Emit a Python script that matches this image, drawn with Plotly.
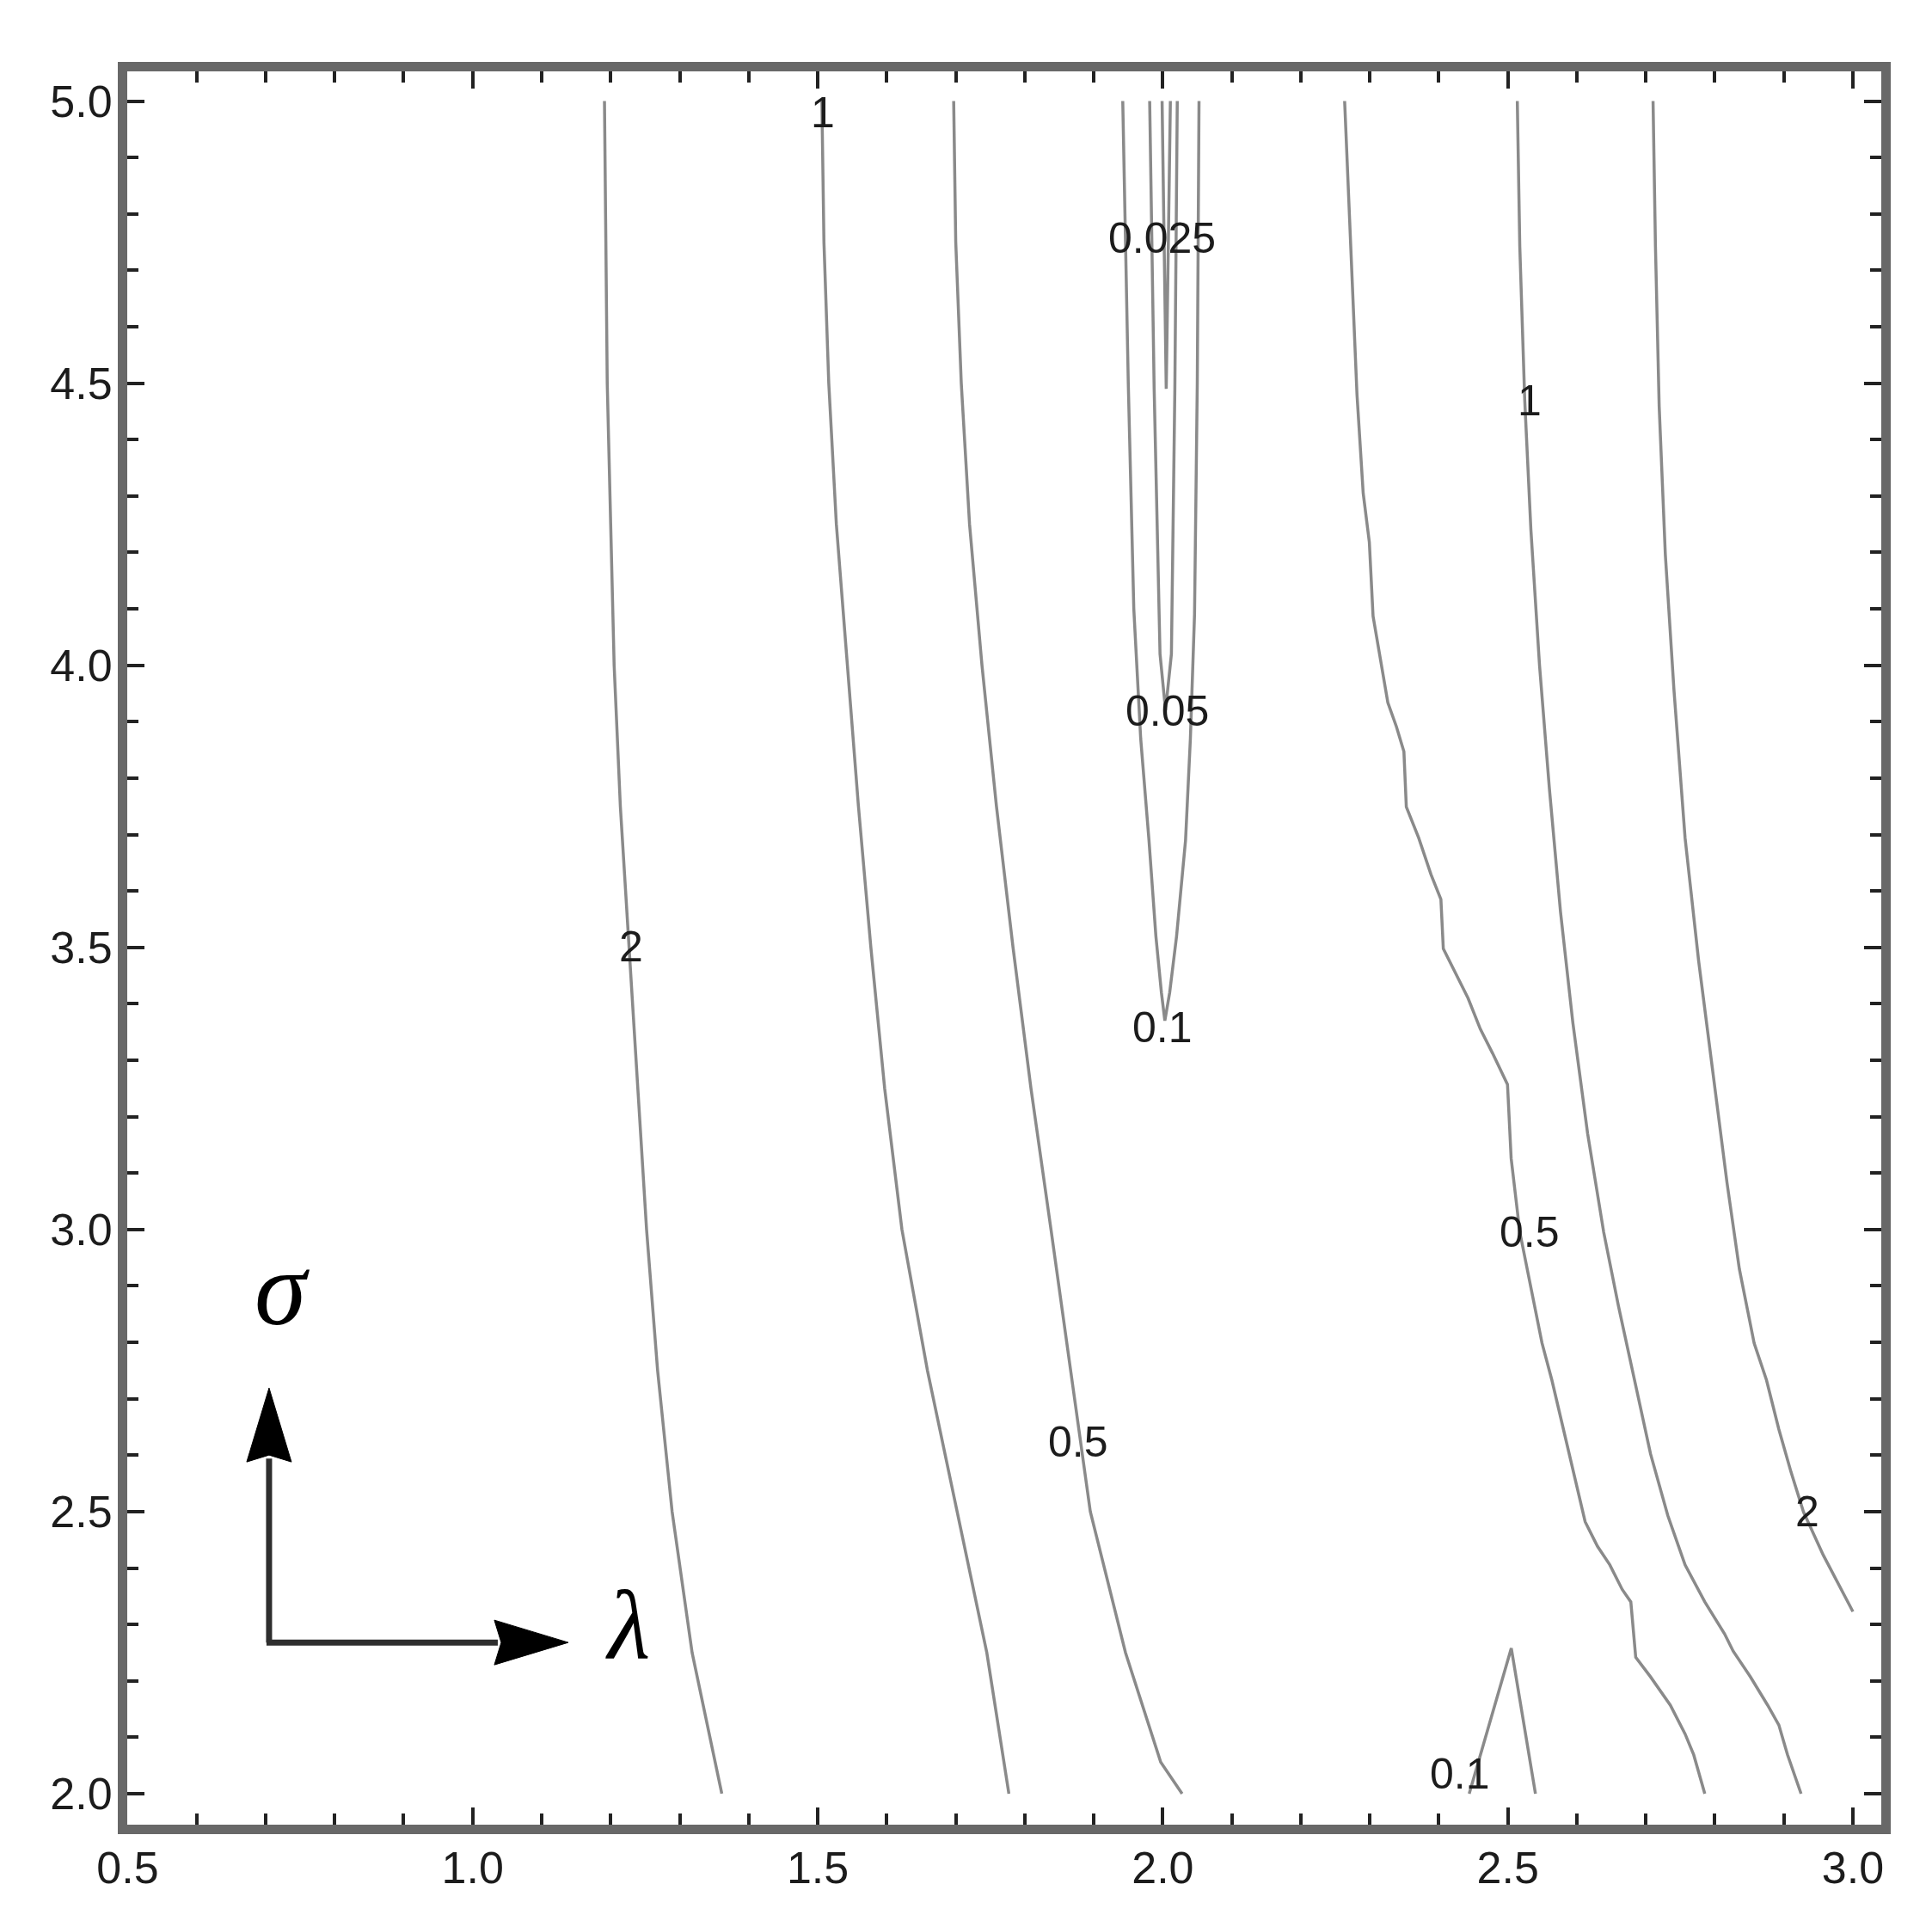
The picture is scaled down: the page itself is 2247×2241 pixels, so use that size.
import plotly.graph_objects as go

# ---------------- data ----------------
Y_GRID = [5.0, 4.75, 4.5, 4.25, 4.0, 3.75, 3.5, 3.25, 3.0, 2.75, 2.5, 2.25, 2.0]

c2_left_x = [1.191, 1.193, 1.195, 1.200, 1.205, 1.214, 1.227, 1.239, 1.252, 1.268, 1.289, 1.318, 1.361]
c2_left_y = Y_GRID

c1_left_x = [1.506, 1.509, 1.516, 1.527, 1.543, 1.559, 1.577, 1.597, 1.622, 1.659, 1.702, 1.745, 1.777]
c1_left_y = Y_GRID

c05_left_x = [1.697, 1.700, 1.708, 1.720, 1.738, 1.759, 1.783, 1.809, 1.838, 1.867, 1.895, 1.946, 1.997, 2.028]
c05_left_y = [5.0, 4.75, 4.5, 4.25, 4.0, 3.75, 3.5, 3.25, 3.0, 2.75, 2.5, 2.25, 2.056, 2.0]

c01_top_x = [1.942, 1.950, 1.958, 1.968, 1.980, 1.990, 1.998, 2.003, 2.010, 2.020, 2.033, 2.040, 2.046, 2.050, 2.0525]
c01_top_y = [5.0, 4.5, 4.1, 3.87, 3.69, 3.52, 3.42, 3.37, 3.42, 3.52, 3.69, 3.87, 4.09, 4.5, 5.0]

c005_x = [1.981, 1.9875, 1.996, 2.004, 2.0125, 2.0175, 2.021]
c005_y = [5.0, 4.49, 4.02, 3.92, 4.02, 4.49, 5.0]

c0025_x = [1.999, 2.005, 2.011]
c0025_y = [5.0, 4.49, 5.0]

c05_right_x = [2.2635, 2.2725, 2.2814, 2.2904, 2.2993, 2.3047, 2.3136, 2.3261, 2.3386, 2.3494,
               2.3529, 2.3708, 2.3887, 2.4030, 2.4065, 2.4244, 2.4423, 2.4602, 2.4780, 2.4995,
               2.5048, 2.5174, 2.5317, 2.5495, 2.5638, 2.5763, 2.5888, 2.6031, 2.6120, 2.6299,
               2.6478, 2.6657, 2.6782, 2.6853, 2.7068, 2.7354, 2.7568, 2.7693, 2.7854]
c05_right_y = [5.0, 4.742, 4.480, 4.305, 4.218, 4.087, 4.022, 3.934, 3.891, 3.847,
               3.749, 3.694, 3.629, 3.585, 3.4975, 3.454, 3.410, 3.355, 3.312, 3.257,
               3.126, 2.995, 2.9078, 2.7987, 2.733, 2.6677, 2.6022, 2.5257, 2.482, 2.4384,
               2.4056, 2.362, 2.340, 2.2418, 2.207, 2.157, 2.106, 2.069, 2.0]

c1_right_x = [2.5137, 2.5173, 2.5245, 2.5334, 2.5459, 2.5602, 2.5763, 2.5942, 2.6156, 2.6389,
              2.6603, 2.6835, 2.7068, 2.7318, 2.7568, 2.7854, 2.8140, 2.8265, 2.8516, 2.8766,
              2.8927, 2.9052, 2.9249]
c1_right_y = [5.0, 4.742, 4.4693, 4.240, 4.0, 3.7814, 3.563, 3.3664, 3.1699, 2.9952,
              2.8642, 2.7331, 2.6021, 2.4929, 2.4056, 2.3401, 2.2833, 2.2527, 2.2069, 2.1566,
              2.1217, 2.0692, 2.0]

c2_right_x = [2.7104, 2.7139, 2.7193, 2.7282, 2.7407, 2.7568, 2.7765, 2.7997, 2.8176, 2.8355,
              2.8569, 2.8748, 2.8927, 2.9105, 2.9284, 2.9570, 2.9785, 3.0]
c2_right_y = [5.0, 4.742, 4.4584, 4.1963, 3.9561, 3.694, 3.4756, 3.2573, 3.0826, 2.9297,
              2.7986, 2.7331, 2.6458, 2.5694, 2.4994, 2.423, 2.3728, 2.3226]

c01_bottom_x = [2.444, 2.505, 2.540]
c01_bottom_y = [2.0, 2.258, 2.0]

contour_lines = [
    (c2_left_x, c2_left_y), (c1_left_x, c1_left_y), (c05_left_x, c05_left_y),
    (c01_top_x, c01_top_y), (c005_x, c005_y), (c0025_x, c0025_y),
    (c05_right_x, c05_right_y), (c1_right_x, c1_right_y), (c2_right_x, c2_right_y),
    (c01_bottom_x, c01_bottom_y),
]

label_text = ["2", "1", "0.5", "0.025", "0.05", "0.1", "1", "0.5", "2", "0.1"]
label_x = [1.229, 1.507, 1.877, 1.999, 2.006, 2.000, 2.531, 2.531, 2.934, 2.431]
label_y = [3.501, 4.980, 2.624, 4.757, 3.919, 3.358, 4.469, 2.995, 2.500, 2.035]

x_ticks = [0.5, 1.0, 1.5, 2.0, 2.5, 3.0]
x_tick_text = ["0.5", "1.0", "1.5", "2.0", "2.5", "3.0"]
y_ticks = [2.0, 2.5, 3.0, 3.5, 4.0, 4.5, 5.0]
y_tick_text = ["2.0", "2.5", "3.0", "3.5", "4.0", "4.5", "5.0"]

# ---------------- layout constants ----------------
# the page body adds an 8px offset, so the figure is made 16px smaller than the window
W, H = 2231, 2225
ML, MR, MT, MB = 140, 51, 75, 111
X_RANGE = [0.4995, 3.0411]
Y_RANGE = [1.9451, 5.0526]
PLOT_W = W - ML - MR
PLOT_H = H - MT - MB
DX = (X_RANGE[1] - X_RANGE[0]) / PLOT_W   # data units per pixel
DY = (Y_RANGE[1] - Y_RANGE[0]) / PLOT_H

LINE_COLOR = "#8a8a8a"
TEXT_COLOR = "#1c1c1c"
FONT = "Liberation Sans, Arial, sans-serif"

fig = go.Figure()
for xs, ys in contour_lines:
    fig.add_trace(go.Scatter(x=xs, y=ys, mode="lines",
                             line=dict(color=LINE_COLOR, width=3.5),
                             hoverinfo="skip", showlegend=False))

for t, x, y in zip(label_text, label_x, label_y):
    fig.add_annotation(x=x, y=y, text=t, showarrow=False, xanchor="center", yanchor="middle",
                       font=dict(family=FONT, size=50, color=TEXT_COLOR))

# ---------------- axis-direction arrows (sigma / lambda) ----------------
ox, oy = 0.705, 2.268          # corner of the two arrows
v_len_px, h_len_px = 296, 348  # shaft+head length in pixels
head_len, head_half = 86, 26
arrow_col = "#2e2e2e"
# vertical arrow
tip_vy = oy + v_len_px * DY
base_vy = tip_vy - head_len * DY
fig.add_shape(type="line", x0=ox, y0=oy, x1=ox, y1=base_vy + 4 * DY,
              line=dict(color=arrow_col, width=7))
fig.add_shape(type="path",
              path=(f"M {ox} {tip_vy} L {ox + head_half * DX} {base_vy} "
                    f"L {ox} {base_vy + 8 * DY} L {ox - head_half * DX} {base_vy} Z"),
              fillcolor="black", line=dict(color="black", width=1))
# horizontal arrow
tip_hx = ox + h_len_px * DX
base_hx = tip_hx - head_len * DX
fig.add_shape(type="line", x0=ox - 3 * DX, y0=oy, x1=base_hx + 4 * DX, y1=oy,
              line=dict(color=arrow_col, width=7))
fig.add_shape(type="path",
              path=(f"M {tip_hx} {oy} L {base_hx} {oy + head_half * DY} "
                    f"L {base_hx + 8 * DX} {oy} L {base_hx} {oy - head_half * DY} Z"),
              fillcolor="black", line=dict(color="black", width=1))

fig.add_annotation(x=0.724, y=2.895, text="σ", showarrow=False, xanchor="center", yanchor="middle",
                   font=dict(family="Liberation Serif, Times New Roman, serif", size=122,
                             color="black", style="italic"))
fig.add_annotation(x=1.225, y=2.300, text="λ", showarrow=False, xanchor="center", yanchor="middle",
                   font=dict(family="Liberation Serif, Times New Roman, serif", size=114,
                             color="black", style="italic"))

axis_common = dict(
    showgrid=False, zeroline=False, showline=True, linewidth=11, linecolor="#686868",
    mirror="allticks", ticks="inside", ticklen=20, tickwidth=4, tickcolor="#222222",
    tickfont=dict(family=FONT, size=52, color=TEXT_COLOR),
    minor=dict(dtick=0.1, ticks="inside", ticklen=13, tickwidth=4, tickcolor="#222222", showgrid=False),
)

fig.update_layout(
    width=W, height=H,
    margin=dict(l=ML, r=MR, t=MT, b=MB),
    paper_bgcolor="white", plot_bgcolor="white",
    xaxis=dict(range=X_RANGE, tickvals=x_ticks, ticktext=x_tick_text, tick0=0.5,
               ticklabelstandoff=-5, **axis_common),
    yaxis=dict(range=Y_RANGE, tickvals=y_ticks, ticktext=y_tick_text, tick0=2.0,
               ticklabelstandoff=-4, **axis_common),
)

fig.write_html("out.html")
